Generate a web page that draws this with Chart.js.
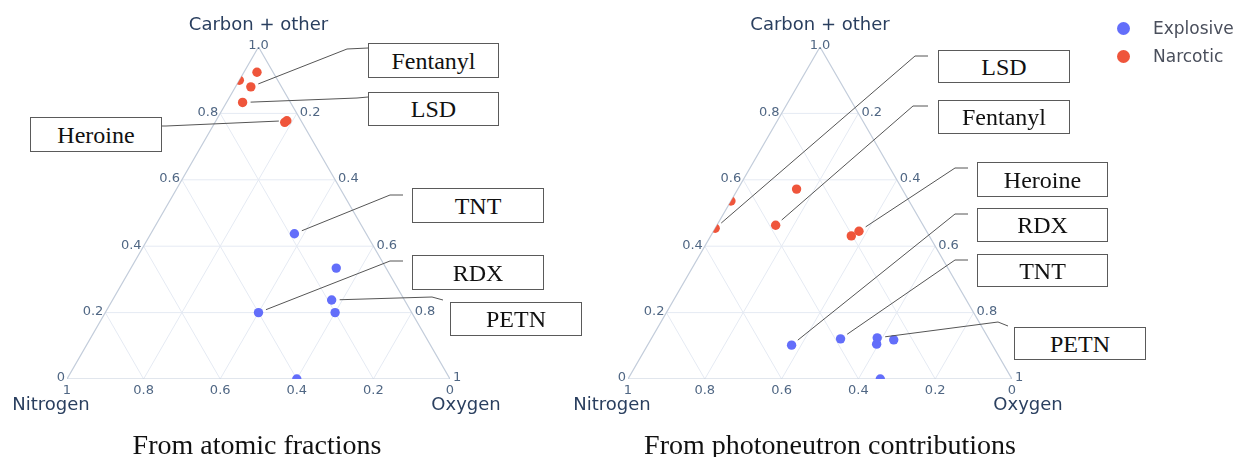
<!DOCTYPE html>
<html><head><meta charset="utf-8">
<script src="https://cdn.jsdelivr.net/npm/chart.js@4.4.0/dist/chart.umd.min.js"></script>
<style>
html,body{margin:0;padding:0;background:#fff;}
#wrap{position:relative;width:1239px;height:457px;overflow:hidden;background:#fff;}
canvas{position:absolute;top:0;}
.box{position:absolute;box-sizing:border-box;border:1px solid #5a5a5a;background:#fff;font-family:"Liberation Serif","Times New Roman",serif;font-size:24px;color:#111;display:flex;align-items:center;justify-content:center;line-height:1;}
.cap{position:absolute;top:430px;height:30px;line-height:30px;font-family:"Liberation Serif","Times New Roman",serif;font-size:28px;color:#111;white-space:nowrap;transform:translateX(-50%);}
.leg{position:absolute;left:1153px;font-family:"DejaVu Sans",sans-serif;font-size:17px;color:#4a4f5c;line-height:20px;height:20px;}
.dot{position:absolute;width:13px;height:13px;border-radius:50%;}
</style></head>
<body><div id="wrap">
<canvas id="c1" width="620" height="457" style="left:0px;width:620px;height:457px"></canvas>
<canvas id="c2" width="620" height="457" style="left:561px;width:620px;height:457px"></canvas>
</div>
<script>
// ---------- data ----------
const seriesNames = ['Explosive', 'Narcotic'];
const seriesColors = ['#636efa', '#ef553b'];
const axisTitles = ['Carbon + other', 'Nitrogen', 'Oxygen'];
const captions = ['From atomic fractions', 'From photoneutron contributions'];

const aTicks = [0, 0.2, 0.4, 0.6, 0.8, 1.0];
const aTickLabels = ['0', '0.2', '0.4', '0.6', '0.8', '1.0'];
const bTicks = [1, 0.8, 0.6, 0.4, 0.2, 0];
const bTickLabels = ['1', '0.8', '0.6', '0.4', '0.2', '0'];
const cTicks = [0.2, 0.4, 0.6, 0.8, 1];
const cTickLabels = ['0.2', '0.4', '0.6', '0.8', '1'];
const gridTicks = [0.2, 0.4, 0.6, 0.8];

// Left: atomic fractions (carbon+other, nitrogen, oxygen)
const atomicExplosiveCarbon   = [0.4375, 0.200, 0.238, 0.200, 0.334, 0.000];
const atomicExplosiveNitrogen = [0.1875, 0.400, 0.190, 0.200, 0.130, 0.400];
const atomicExplosiveOxygen   = [0.3750, 0.400, 0.572, 0.600, 0.536, 0.600];
const atomicNarcoticCarbon    = [0.880, 0.833, 0.778, 0.773, 0.924, 0.900];
const atomicNarcoticNitrogen  = [0.080, 0.125, 0.037, 0.045, 0.042, 0.100];
const atomicNarcoticOxygen    = [0.040, 0.042, 0.185, 0.182, 0.034, 0.000];
const atomicLabels = ['Fentanyl', 'LSD', 'Heroine', 'TNT', 'RDX', 'PETN'];

// Right: photoneutron contributions
const photoExplosiveCarbon   = [0.102, 0.121, 0.124, 0.105, 0.118, 0.000];
const photoExplosiveNitrogen = [0.523, 0.386, 0.289, 0.300, 0.249, 0.343];
const photoExplosiveOxygen   = [0.375, 0.493, 0.587, 0.595, 0.633, 0.657];
const photoNarcoticCarbon    = [0.454, 0.463, 0.445, 0.431, 0.572, 0.536];
const photoNarcoticNitrogen  = [0.546, 0.384, 0.176, 0.203, 0.275, 0.464];
const photoNarcoticOxygen    = [0.000, 0.153, 0.379, 0.366, 0.153, 0.000];
const photoLabels = ['LSD', 'Fentanyl', 'Heroine', 'RDX', 'TNT', 'PETN'];

// ---------- helpers ----------
const SQ = Math.sqrt(3) / 2;
function toXY(a, b, c) { const s = a + b + c; return { x: (c + a / 2) / s, y: (a * SQ) / s }; }
function pts(A, B, C) { return A.map((a, i) => toXY(a, B[i], C[i])); }

function gridDatasets() {
  const ds = [];
  const mk = (p1, p2) => ({ type: 'scatter', data: [p1, p2], showLine: true, borderColor: '#e5eaf3', borderWidth: 1, pointRadius: 0, order: 3 });
  gridTicks.forEach(t => {
    ds.push(mk(toXY(t, 1 - t, 0), toXY(t, 0, 1 - t)));   // const a
    ds.push(mk(toXY(0, t, 1 - t), toXY(1 - t, t, 0)));   // const b
    ds.push(mk(toXY(0, 1 - t, t), toXY(1 - t, 0, t)));   // const c
  });
  ds.push({ type: 'scatter', data: [toXY(0, 1, 0), toXY(0, 0, 1), toXY(1, 0, 0), toXY(0, 1, 0)], showLine: true, borderColor: '#c3cddb', borderWidth: 1.2, pointRadius: 0, order: 2 });
  return ds;
}

function triPath(chart, ctx) {
  const xs = chart.scales.x, ys = chart.scales.y;
  const v = [toXY(0, 1, 0), toXY(0, 0, 1), toXY(1, 0, 0)];
  ctx.beginPath();
  v.forEach((p, i) => { const X = xs.getPixelForValue(p.x), Y = ys.getPixelForValue(p.y); i ? ctx.lineTo(X, Y) : ctx.moveTo(X, Y); });
  ctx.closePath();
}

function makePanel(canvasId, leftPx, pad, expl, narc, annots) {
  const clipPlugin = {
    id: 'triclip',
    beforeDatasetDraw(chart, args) {
      if (!chart.data.datasets[args.index].isMarker) return;
      const ctx = chart.ctx; ctx.save(); triPath(chart, ctx); ctx.clip();
    },
    afterDatasetDraw(chart, args) {
      if (!chart.data.datasets[args.index].isMarker) return;
      chart.ctx.restore();
    }
  };
  const labelPlugin = {
    id: 'ternlabels',
    afterDraw(chart) {
      const ctx = chart.ctx, xs = chart.scales.x, ys = chart.scales.y;
      const P = p => [xs.getPixelForValue(p.x), ys.getPixelForValue(p.y)];
      ctx.save();
      ctx.fillStyle = '#506784';
      ctx.font = '13px "DejaVu Sans", sans-serif';
      ctx.textBaseline = 'middle';
      aTicks.forEach((a, i) => {
        const [X, Y] = P(toXY(a, 1 - a, 0));
        if (a === 1) { ctx.textAlign = 'center'; ctx.fillText(aTickLabels[i], X, Y - 1); }
        else { ctx.textAlign = 'right'; ctx.fillText(aTickLabels[i], X - 2, Y - 1); }
      });
      bTicks.forEach((b, i) => {
        const [X, Y] = P(toXY(0, b, 1 - b));
        ctx.textAlign = 'center'; ctx.fillText(bTickLabels[i], X, Y + 12);
      });
      cTicks.forEach((c, i) => {
        const [X, Y] = P(toXY(1 - c, 0, c));
        ctx.textAlign = 'left'; ctx.fillText(cTickLabels[i], X + 3, Y - 1);
      });
      ctx.fillStyle = '#2a3f5f';
      ctx.font = '18px "DejaVu Sans", sans-serif';
      ctx.textAlign = 'center';
      let [X, Y] = P(toXY(1, 0, 0)); ctx.fillText(axisTitles[0], X, Y - 22);
      [X, Y] = P(toXY(0, 1, 0)); ctx.fillText(axisTitles[1], X - 16, Y + 26);
      [X, Y] = P(toXY(0, 0, 1)); ctx.fillText(axisTitles[2], X + 16, Y + 26);
      // leader lines
      ctx.strokeStyle = '#555'; ctx.lineWidth = 1;
      annots.forEach(an => {
        const ds = an.series === 0 ? 0 : 1;
        const el = chart.getDatasetMeta(chart.data.datasets.length - 2 + ds).data[an.idx];
        const ex = an.elbow[0] - leftPx, ey = an.elbow[1];
        const dx = ex - el.x, dy = ey - el.y, d = Math.hypot(dx, dy);
        ctx.beginPath();
        ctx.moveTo(el.x + dx / d * 8, el.y + dy / d * 8);
        ctx.lineTo(ex, ey);
        ctx.lineTo(an.end[0] - leftPx, an.end[1]);
        ctx.stroke();
      });
      ctx.restore();
    }
  };
  const datasets = gridDatasets().concat([
    { type: 'scatter', label: seriesNames[0], data: expl, isMarker: true, pointRadius: 4.7, pointBackgroundColor: seriesColors[0], pointBorderWidth: 0, order: 0 },
    { type: 'scatter', label: seriesNames[1], data: narc, isMarker: true, pointRadius: 4.7, pointBackgroundColor: seriesColors[1], pointBorderWidth: 0, order: 0 }
  ]);
  new Chart(document.getElementById(canvasId), {
    type: 'scatter',
    data: { datasets },
    options: {
      responsive: false, animation: false, events: [],
      layout: { padding: pad },
      plugins: { legend: { display: false }, tooltip: { enabled: false } },
      scales: { x: { type: 'linear', min: 0, max: 1, display: false }, y: { type: 'linear', min: 0, max: SQ, display: false } }
    },
    plugins: [clipPlugin, labelPlugin]
  });
  const wrap = document.getElementById('wrap');
  annots.forEach(an => {
    const d = document.createElement('div');
    d.className = 'box'; d.textContent = an.text;
    d.style.left = an.box[0] + 'px'; d.style.top = an.box[1] + 'px';
    d.style.width = an.box[2] + 'px'; d.style.height = an.box[3] + 'px';
    wrap.appendChild(d);
  });
}

makePanel('c1', 0, { left: 67, right: 170, top: 47, bottom: 78 },
  pts(atomicExplosiveCarbon, atomicExplosiveNitrogen, atomicExplosiveOxygen),
  pts(atomicNarcoticCarbon, atomicNarcoticNitrogen, atomicNarcoticOxygen),
  [
    { text: atomicLabels[0], series: 1, idx: 0, box: [368, 43, 131, 35], elbow: [347, 49], end: [368, 48] },
    { text: atomicLabels[1], series: 1, idx: 1, box: [368, 92, 131, 34], elbow: [357, 98], end: [368, 97] },
    { text: atomicLabels[2], series: 1, idx: 2, box: [30, 117, 132, 35], elbow: [166, 126], end: [162, 126] },
    { text: atomicLabels[3], series: 0, idx: 0, box: [412, 188, 132, 35], elbow: [390, 195], end: [403, 195] },
    { text: atomicLabels[4], series: 0, idx: 1, box: [412, 255, 132, 35], elbow: [390, 261], end: [403, 261] },
    { text: atomicLabels[5], series: 0, idx: 2, box: [450, 302, 132, 34], elbow: [432, 297], end: [443, 300] }
  ]);

makePanel('c2', 561, { left: 67, right: 169, top: 47, bottom: 78 },
  pts(photoExplosiveCarbon, photoExplosiveNitrogen, photoExplosiveOxygen),
  pts(photoNarcoticCarbon, photoNarcoticNitrogen, photoNarcoticOxygen),
  [
    { text: photoLabels[0], series: 1, idx: 0, box: [938, 50, 132, 33], elbow: [915, 56], end: [928, 56] },
    { text: photoLabels[1], series: 1, idx: 1, box: [938, 100, 132, 34], elbow: [913, 106], end: [928, 106] },
    { text: photoLabels[2], series: 1, idx: 2, box: [977, 162, 131, 35], elbow: [955, 168], end: [968, 168] },
    { text: photoLabels[3], series: 0, idx: 0, box: [977, 208, 131, 34], elbow: [955, 214], end: [968, 214] },
    { text: photoLabels[4], series: 0, idx: 1, box: [977, 254, 131, 33], elbow: [955, 260], end: [968, 260] },
    { text: photoLabels[5], series: 0, idx: 2, box: [1014, 327, 132, 33], elbow: [998, 322], end: [1008, 326] }
  ]);

// captions & legend
const wrap = document.getElementById('wrap');
[[257, captions[0]], [830, captions[1]]].forEach(([x, t]) => {
  const d = document.createElement('div'); d.className = 'cap'; d.style.left = x + 'px'; d.textContent = t; wrap.appendChild(d);
});
seriesNames.forEach((n, i) => {
  const y = 28 + i * 28;
  const dot = document.createElement('div'); dot.className = 'dot';
  dot.style.left = (1123 - 6.5) + 'px'; dot.style.top = (y - 6.5) + 'px'; dot.style.background = seriesColors[i];
  wrap.appendChild(dot);
  const t = document.createElement('div'); t.className = 'leg'; t.style.top = (y - 10) + 'px'; t.textContent = n;
  wrap.appendChild(t);
});
</script>
</body></html>
